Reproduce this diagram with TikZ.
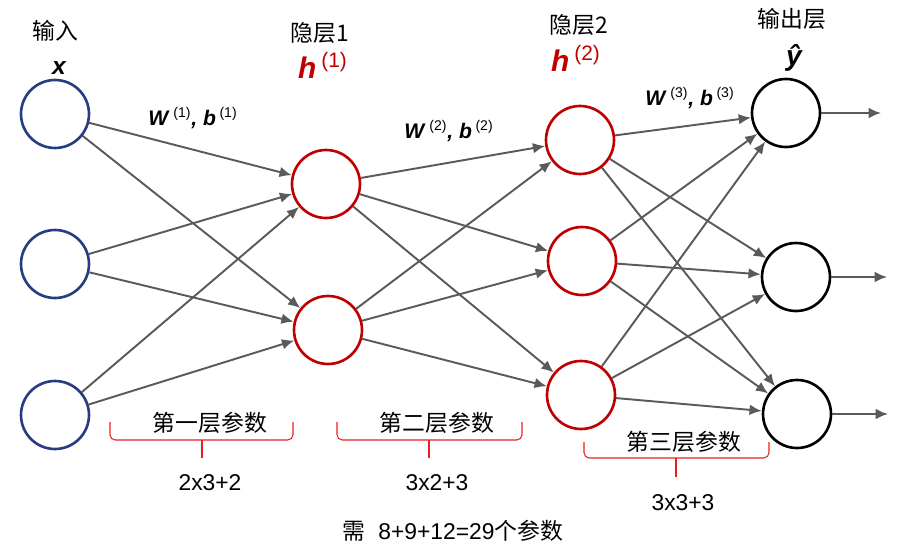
\documentclass[tikz,border=0pt]{standalone}
\usepackage{fontspec}
\setmainfont{Liberation Sans}
\newfontfamily\cjk{Noto Sans CJK SC}
\usetikzlibrary{arrows.meta}

\definecolor{inblue}{RGB}{40,60,130}
\definecolor{hidred}{RGB}{192,0,0}
\definecolor{edgegray}{RGB}{90,90,90}
\definecolor{bracered}{RGB}{235,30,30}

\begin{document}
\begin{tikzpicture}[x=0.02cm, y=-0.02cm,
    neuron/.style={circle, line width=1.5pt, minimum size=1.36cm, inner sep=0pt},
    inp/.style={neuron, draw=inblue},
    hid/.style={neuron, draw=hidred},
    outp/.style={neuron, draw=black},
    edge/.style={draw=edgegray, line width=1.1pt, -{Latex[length=7pt,width=6pt]}},
    layer/.style={font=\cjk\fontsize{13}{15}\selectfont},
    vec/.style={font=\bfseries\itshape\fontsize{14}{16}\selectfont},
    wlabel/.style={font=\fontsize{12}{14}\selectfont},
    brace/.style={draw=bracered, line width=0.6pt, rounded corners=3pt},
    count/.style={font=\fontsize{13}{15}\selectfont}]
        \useasboundingbox (0,0) rectangle (909,544);

        % input layer
        \node[inp] (x1) at (55,114) {};
        \node[inp] (x2) at (55,264) {};
        \node[inp] (x3) at (55,415) {};
        % hidden layer 1
        \node[hid] (ha1) at (326,184) {};
        \node[hid] (ha2) at (328,330) {};
        % hidden layer 2
        \node[hid] (hb1) at (580,140) {};
        \node[hid] (hb2) at (582,261) {};
        \node[hid] (hb3) at (581,395) {};
        % output layer
        \node[outp] (y1) at (786,113) {};
        \node[outp] (y2) at (796,277) {};
        \node[outp] (y3) at (797,414) {};

        \coordinate (o1) at (881,113);
        \coordinate (o2) at (887,277);
        \coordinate (o3) at (888,414);

        \foreach \i in {1,2,3}
            \foreach \j in {1,2}
                \draw[edge] (x\i) -- (ha\j);
        \foreach \i in {1,2}
            \foreach \j in {1,2,3}
                \draw[edge] (ha\i) -- (hb\j);
        \foreach \i in {1,2,3}
            \foreach \j in {1,2,3}
                \draw[edge] (hb\i) -- (y\j);
        \foreach \j in {1,2,3}
            \draw[edge] (y\j) -- (o\j);

        % layer titles
        \node[layer] (tin) at (55,31) {输入};
        \node[layer] (th1) at (320,33) {隐层1};
        \node[layer] (th2) at (579,25) {隐层2};
        \node[layer] (tout) at (792,19) {输出层};
        \node[vec] (lx) at (59,68) {x};
        \node[vec, text=hidred, font=\bfseries\itshape\fontsize{17}{19}\selectfont] (lh1) at (323,65) {h\,\textsuperscript{\normalfont\upshape (1)}};
        \node[vec, text=hidred, font=\bfseries\itshape\fontsize{17}{19}\selectfont] (lh2) at (576,58) {h\,\textsuperscript{\normalfont\upshape (2)}};
        \node[vec, font=\bfseries\itshape\fontsize{16}{18}\selectfont] (ly) at (794,58) {ŷ};

        % weights
        \node[wlabel] (w1) at (193,118) {\textbf{\textit{W}}\,\textsuperscript{(1)}\textbf{\textit{, b}}\,\textsuperscript{(1)}};
        \node[wlabel] (w2) at (449,131) {\textbf{\textit{W}}\,\textsuperscript{(2)}\textbf{\textit{, b}}\,\textsuperscript{(2)}};
        \node[wlabel] (w3) at (690,98) {\textbf{\textit{W}}\,\textsuperscript{(3)}\textbf{\textit{, b}}\,\textsuperscript{(3)}};

        % parameter braces
        \draw[brace] (110,422) -- (110,440) -- (293,440) -- (293,422);
        \draw[bracered, line width=0.6pt] (202,440) -- (202,458);
        \draw[brace] (337,422) -- (337,440) -- (522,440) -- (522,422);
        \draw[bracered, line width=0.6pt] (429,440) -- (429,458);
        \draw[brace] (584,442) -- (584,458) -- (769,458) -- (769,442);
        \draw[bracered, line width=0.6pt] (676,458) -- (676,477);

        \node[layer] (p1) at (210,423) {第一层参数};
        \node[layer] (p2) at (437,423) {第二层参数};
        \node[layer] (p3) at (684,442) {第三层参数};
        \node[count] (c1) at (210,483) {2x3+2};
        \node[count] (c2) at (437,483) {3x2+3};
        \node[count] (c3) at (683,503) {3x3+3};
        \node[count] (total) at (453,531) {{\cjk 需}\ \ 8+9+12=29{\cjk 个参数}};
\end{tikzpicture}
\end{document}
